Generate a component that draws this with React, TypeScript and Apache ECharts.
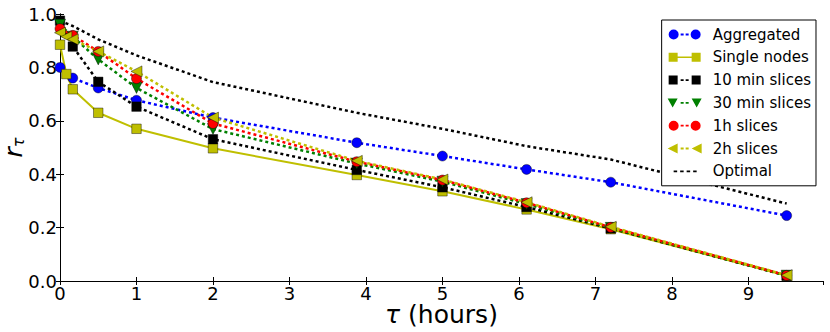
import React, { useEffect, useRef } from "react";
import * as echarts from "echarts";

// tau values (hours)
const tau = [0, 0.083, 0.167, 0.5, 1, 2, 3.88, 5, 6.1, 7.2, 9.5];
const aggregated = [0.80, null, 0.76, 0.723, 0.677, 0.612, 0.518, 0.468, 0.418, 0.37, 0.245];
const singleNodes = [0.885, 0.775, 0.718, 0.63, 0.57, 0.497, 0.397, 0.336, 0.268, 0.194, 0.02];
const slices10min = [0.975, null, 0.878, 0.746, 0.653, 0.531, 0.416, 0.351, 0.277, 0.197, 0.02];
const slices30min = [0.96, null, 0.915, 0.83, 0.723, 0.569, 0.44, 0.372, 0.288, 0.199, 0.02];
const slices1h = [0.945, null, 0.92, 0.86, 0.758, 0.59, 0.447, 0.378, 0.293, 0.201, 0.021];
const slices2h = [0.93, 0.915, 0.905, 0.86, 0.785, 0.612, 0.45, 0.38, 0.295, 0.203, 0.022];
const optimal = [0.975, 0.965, 0.955, 0.905, 0.845, 0.745, 0.63, 0.57, 0.505, 0.455, 0.29];

const xTicks = [0, 1, 2, 3, 4, 5, 6, 7, 8, 9];
const yTicks = [0, 0.2, 0.4, 0.6, 0.8, 1.0];

const FONT = "DejaVu Sans";

// legend icons (34 x 11 boxes)
const corners = "M0,0 L0.01,0 L0,0.01 Z M34,11 L33.99,11 L34,10.99 Z ";
const dashes = "M13,4.6 L16,4.6 L16,6.4 L13,6.4 Z M18,4.6 L21,4.6 L21,6.4 L18,6.4 Z ";
const circ = (cx: number) =>
  `M${cx - 5},5.5 A5,5 0 1 0 ${cx + 5},5.5 A5,5 0 1 0 ${cx - 5},5.5 Z `;
const sq = (x: number) => `M${x},1 L${x + 9},1 L${x + 9},10 L${x},10 Z `;
const triDown = (x: number) => `M${x},1 L${x + 10},1 L${x + 5},10 Z `;
const triLeft = (x: number) => `M${x},5.5 L${x + 10},0.5 L${x + 10},10.5 Z `;

const iconAgg = "path://" + corners + circ(6) + dashes + circ(28);
const iconSingle = "path://" + corners + sq(1) + "M10,4.8 L24,4.8 L24,6.2 L10,6.2 Z " + sq(24);
const iconSq10 = "path://" + corners + sq(1) + dashes + sq(24);
const iconDown = "path://" + corners + triDown(0) + dashes + triDown(24);
const iconLeft = "path://" + corners + triLeft(0) + dashes + triLeft(24);
const iconOpt =
  "path://" +
  corners +
  "M6,4.6 L9.5,4.6 L9.5,6.4 L6,6.4 Z M12.5,4.6 L16,4.6 L16,6.4 L12.5,6.4 Z M19,4.6 L22.5,4.6 L22.5,6.4 L19,6.4 Z M25.5,4.6 L29,4.6 L29,6.4 L25.5,6.4 Z";

const toPairs = (vals: (number | null)[]) =>
  tau.map((t, i) => [t, vals[i]]).filter((p) => p[1] !== null);

export default function App() {
  const ref = useRef<HTMLDivElement>(null);
  useEffect(() => {
    if (!ref.current) return;
    const chart = echarts.init(ref.current, null, { renderer: "svg" });
    const dotted = (color: string) => ({ color, width: 2.5, type: [3, 3] as number[] });
    const edge = { borderColor: "rgba(0,0,0,0.7)", borderWidth: 0.6 };
    const base = {
      type: "line",
      smooth: false,
      symbolSize: 10,
      emphasis: { disabled: true },
    };
    const axisCommon = {
      axisLine: { show: true, lineStyle: { color: "#000", width: 1 } },
      axisTick: { show: true, inside: true, length: 4, lineStyle: { color: "#000" } },
      splitLine: { show: false },
    };
    chart.setOption({
      animation: false,
      backgroundColor: "#fff",
      textStyle: { fontFamily: FONT },
      grid: { left: 60, right: 7, top: 14, bottom: 51, containLabel: false, outerBoundsMode: "none" },
      legend: {
        orient: "vertical",
        right: 14,
        top: 20,
        itemWidth: 34,
        itemHeight: 11,
        itemGap: 7.8,
        padding: [7, 5, 7, 6],
        backgroundColor: "#fff",
        borderColor: "#000",
        borderWidth: 1,
        borderRadius: 0,
        itemStyle: { borderWidth: 0 },
        textStyle: { fontSize: 15, color: "#000", fontFamily: FONT, padding: [0, 0, 0, 6] },
        data: [
          { name: "Aggregated", icon: iconAgg },
          { name: "Single nodes", icon: iconSingle },
          { name: "10 min slices", icon: iconSq10 },
          { name: "30 min slices", icon: iconDown },
          { name: "1h slices", icon: iconAgg },
          { name: "2h slices", icon: iconLeft },
          { name: "Optimal", icon: iconOpt },
        ],
      },
      xAxis: [
        {
          type: "value",
          min: 0,
          max: 9.975,
          interval: 1,
          ...axisCommon,
          axisLabel: {
            fontSize: 18,
            lineHeight: 18,
            color: "#000",
            margin: 3,
            showMaxLabel: false,
            formatter: (v: number) => (xTicks.includes(v) ? String(v) : ""),
          },
          name: "{t|τ} (hours)",
          nameLocation: "middle",
          nameGap: 21,
          nameMoveOverlap: false,
          nameTextStyle: {
            fontSize: 25,
            lineHeight: 25,
            color: "#000",
            fontFamily: FONT,
            rich: { t: { fontSize: 25, lineHeight: 25, fontStyle: "italic", fontFamily: FONT, color: "#000" } },
          },
        },
        {
          type: "value",
          min: 0,
          max: 9.975,
          interval: 1,
          position: "top",
          ...axisCommon,
          axisLabel: { show: false },
        },
      ],
      yAxis: [
        {
          type: "value",
          min: 0,
          max: 1,
          interval: 0.2,
          ...axisCommon,
          axisLabel: {
            fontSize: 18,
            color: "#000",
            margin: 3,
            formatter: (v: number) =>
              yTicks.some((t) => Math.abs(t - v) < 1e-9) ? v.toFixed(1) : "",
          },
          name: "{r|r}{t|τ}",
          nameLocation: "middle",
          nameRotate: 90,
          nameGap: 34,
          nameMoveOverlap: false,
          nameTextStyle: {
            color: "#000",
            rich: {
              r: { fontSize: 25, fontStyle: "italic", fontFamily: FONT, color: "#000", verticalAlign: "bottom", lineHeight: 28 },
              t: { fontSize: 16, fontStyle: "italic", fontFamily: FONT, color: "#000", verticalAlign: "bottom", lineHeight: 28, padding: [10, 0, 0, 0] },
            },
          },
        },
        {
          type: "value",
          min: 0,
          max: 1,
          interval: 0.2,
          position: "right",
          ...axisCommon,
          axisLabel: { show: false },
        },
      ],
      series: [
        {
          ...base,
          name: "Aggregated",
          data: toPairs(aggregated),
          symbol: "circle",
          lineStyle: dotted("#0000ff"),
          itemStyle: { color: "#0000ff", ...edge },
        },
        {
          ...base,
          name: "Single nodes",
          data: toPairs(singleNodes),
          symbol: "rect",
          symbolSize: 9.5,
          lineStyle: { color: "#bfbf00", width: 2 },
          itemStyle: { color: "#bfbf00", ...edge },
        },
        {
          ...base,
          name: "10 min slices",
          data: toPairs(slices10min),
          symbol: "rect",
          symbolSize: 9.5,
          lineStyle: dotted("#000000"),
          itemStyle: { color: "#000000", ...edge },
        },
        {
          ...base,
          name: "30 min slices",
          data: toPairs(slices30min),
          symbol: "triangle",
          symbolRotate: 180,
          symbolSize: 11,
          lineStyle: dotted("#008000"),
          itemStyle: { color: "#008000", ...edge },
        },
        {
          ...base,
          name: "1h slices",
          data: toPairs(slices1h),
          symbol: "circle",
          lineStyle: dotted("#ff0000"),
          itemStyle: { color: "#ff0000", ...edge },
        },
        {
          ...base,
          name: "2h slices",
          data: toPairs(slices2h),
          symbol: "triangle",
          symbolRotate: 90,
          symbolSize: 11,
          lineStyle: dotted("#bfbf00"),
          itemStyle: { color: "#bfbf00", ...edge },
        },
        {
          ...base,
          name: "Optimal",
          data: toPairs(optimal),
          symbol: "none",
          showSymbol: false,
          lineStyle: dotted("#000000"),
          itemStyle: { color: "#000000" },
        },
      ],
    });
    return () => chart.dispose();
  }, []);
  return (
    <div
      ref={ref}
      style={{ position: "fixed", left: 0, top: 0, width: 830, height: 332, background: "#fff" }}
    />
  );
}
